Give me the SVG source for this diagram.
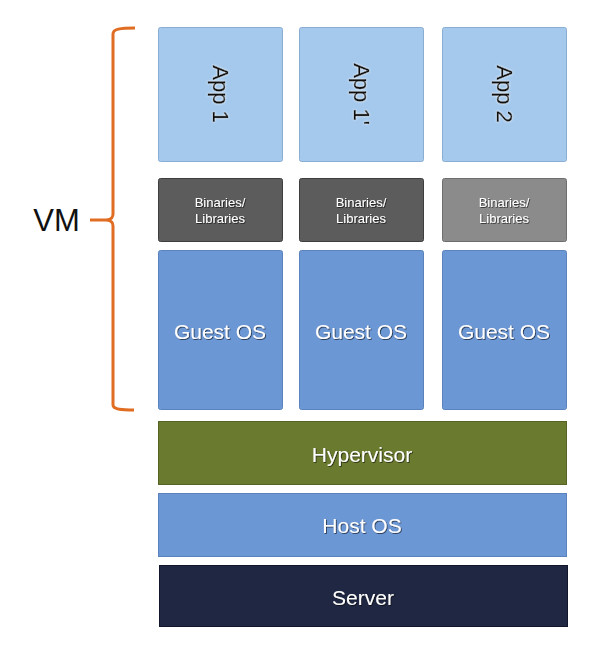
<svg xmlns="http://www.w3.org/2000/svg" width="595" height="655" viewBox="0 0 595 655">
<defs>
<filter id="sh" x="-20%" y="-20%" width="140%" height="140%"><feDropShadow dx="0.8" dy="0.8" stdDeviation="0.6" flood-color="#000" flood-opacity="0.7"/></filter>
<filter id="gl" x="-20%" y="-20%" width="140%" height="140%"><feDropShadow dx="0" dy="0" stdDeviation="0.8" flood-color="#fff" flood-opacity="0.9"/></filter>
</defs>
<style>
text{font-family:"Liberation Sans",Arial,sans-serif;text-anchor:middle}
.app rect{fill:#a5c9ed;stroke:#8aaed3;stroke-width:1}
.app text{font-size:22px;fill:#111;stroke:#111;stroke-width:0.4}
.bin text{font-size:13px;fill:#fff}
.gos rect{fill:#6c97d5;stroke:#5a82bd;stroke-width:1}
.w{fill:#fff;font-size:21px}
</style>
<rect width="595" height="655" fill="#fff"/>
<g id="connectors">
<path d="M135,28 C120,28 113,29 113,34 L113,214 C113,218 111,219 108,220 C111,221 113,222 113,226 L113,405 C113,409 120,410 134,410" fill="none" stroke="#e06d22" stroke-width="3"/>
<line x1="90" y1="220" x2="109" y2="220" stroke="#e06d22" stroke-width="3"/>
</g>
<g id="vm-label"><text x="56.5" y="231" font-size="31" fill="#111">VM</text></g>
<g id="app1" class="app"><rect x="158.5" y="27.5" width="124" height="134" rx="2"/><text transform="translate(220,94) rotate(90)" y="7" filter="url(#gl)">App 1</text></g>
<g id="app1b" class="app"><rect x="299.5" y="27.5" width="124" height="134" rx="2"/><text transform="translate(361,94) rotate(90)" y="7" filter="url(#gl)">App 1'</text></g>
<g id="app2" class="app"><rect x="442.5" y="27.5" width="124" height="134" rx="2"/><text transform="translate(504,94) rotate(90)" y="7" filter="url(#gl)">App 2</text></g>
<g id="bin1" class="bin"><rect x="158.5" y="178.5" width="124" height="63" rx="2" fill="#5c5c5c" stroke="#3e3e3e"/><text x="220" y="207" filter="url(#sh)">Binaries/</text><text x="220" y="223" filter="url(#sh)">Libraries</text></g>
<g id="bin2" class="bin"><rect x="299.5" y="178.5" width="124" height="63" rx="2" fill="#5c5c5c" stroke="#3e3e3e"/><text x="361" y="207" filter="url(#sh)">Binaries/</text><text x="361" y="223" filter="url(#sh)">Libraries</text></g>
<g id="bin3" class="bin"><rect x="442.5" y="178.5" width="124" height="63" rx="2" fill="#8b8b8b" stroke="#6e6e6e"/><text x="504" y="207" filter="url(#sh)">Binaries/</text><text x="504" y="223" filter="url(#sh)">Libraries</text></g>
<g id="gos1" class="gos"><rect x="158.5" y="250.5" width="124" height="159" rx="2"/><text class="w" x="220" y="339" filter="url(#sh)">Guest OS</text></g>
<g id="gos2" class="gos"><rect x="299.5" y="250.5" width="124" height="159" rx="2"/><text class="w" x="361" y="339" filter="url(#sh)">Guest OS</text></g>
<g id="gos3" class="gos"><rect x="442.5" y="250.5" width="124" height="159" rx="2"/><text class="w" x="504" y="339" filter="url(#sh)">Guest OS</text></g>
<g id="hypervisor"><rect x="158.5" y="421.5" width="408" height="63" fill="#6a7b2f" stroke="#556324"/><text class="w" x="362" y="462" font-size="20" filter="url(#sh)">Hypervisor</text></g>
<g id="hostos"><rect x="158.5" y="493.5" width="408" height="63" fill="#6c97d5" stroke="#5a82bd"/><text class="w" x="362" y="533" font-size="20" filter="url(#sh)">Host OS</text></g>
<g id="server"><rect x="159.5" y="565.5" width="408" height="61" fill="#1f2743" stroke="#11162a"/><text class="w" x="363" y="605" font-size="20" filter="url(#sh)">Server</text></g>
</svg>
